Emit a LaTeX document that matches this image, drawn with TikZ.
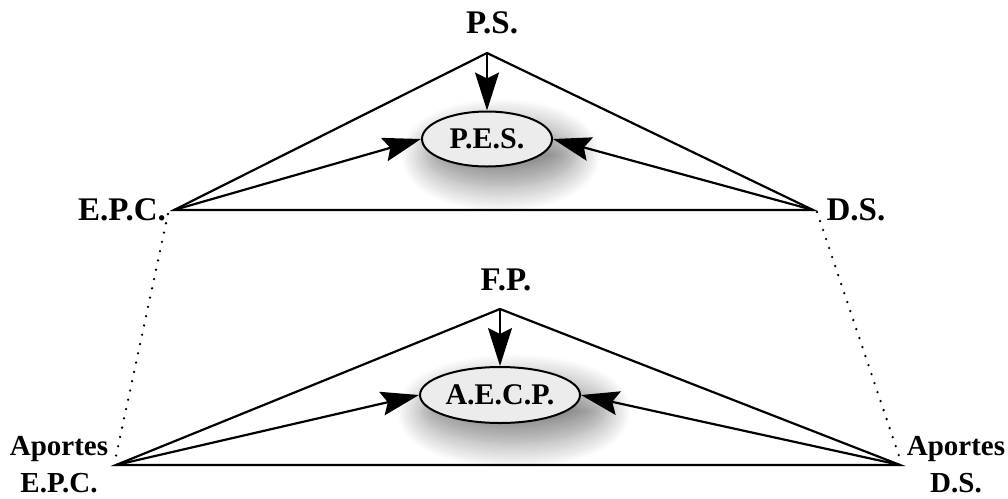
\documentclass[tikz,border=0pt]{standalone}
\usepackage{fontspec}
\setmainfont{Liberation Serif}
\usetikzlibrary{arrows.meta,shadows.blur,shapes.geometric}
\begin{document}
\begin{tikzpicture}[x=1pt,y=-1pt,
  lbl/.style={font=\bfseries\fontsize{33}{35}\selectfont, inner sep=0pt, anchor=base},
  lbls/.style={font=\bfseries\fontsize{29}{31}\selectfont, inner sep=0pt, anchor=base},
  oval/.style={ellipse, draw, line width=2pt, fill=gray!15, inner sep=0pt,
    font=\bfseries\fontsize{30}{32}\selectfont,
    blur shadow={shadow xshift=12pt, shadow yshift=-14pt, shadow scale=1.15, shadow blur radius=22pt, shadow blur steps=20, shadow opacity=45}},
  edge/.style={line width=2.2pt},
  arr/.style={line width=2.2pt, -{Stealth[length=38pt,width=24pt,inset=6pt]}},
  dots/.style={line width=2.6pt, line cap=round, dash pattern=on 0pt off 9.5pt}
]
\useasboundingbox (0,0) rectangle (1008,498);
% top triangle
\coordinate (a1) at (487,53);
\coordinate (l1) at (174,210);
\coordinate (r1) at (813,210);
\node[oval, minimum width=130pt, minimum height=55pt] (pes) at (487,139) {P.E.S.};
\node[lbl] (ps) at (492,33) {P.S.};
\node[lbl] (epc) at (122,220) {E.P.C.};
\node[lbl] (ds) at (856,220) {D.S.};
\draw[edge] (l1) -- (a1) -- (r1) -- cycle;
\draw[arr] (a1) -- (pes.north);
\draw[arr] (l1) -- (pes.west);
\draw[arr] (r1) -- (pes.east);
% bottom triangle
\coordinate (a2) at (500,309);
\coordinate (l2) at (116,465);
\coordinate (r2) at (900,465);
\node[oval, minimum width=160pt, minimum height=56pt] (aecp) at (500,395) {A.E.C.P.};
\node[lbl] (fp) at (506,290) {F.P.};
\node[lbls] (ap1) at (59,455) {Aportes};
\node[lbls] (epc2) at (59,492) {E.P.C.};
\node[lbls] (ap2) at (956,455) {Aportes};
\node[lbls] (ds2) at (956,492) {D.S.};
\draw[edge] (l2) -- (a2) -- (r2) -- cycle;
\draw[arr] (a2) -- (aecp.north);
\draw[arr] (l2) -- (aecp.west);
\draw[arr] (r2) -- (aecp.east);
% dotted links
\coordinate (d1s) at (168,214);
\coordinate (d1e) at (116,456);
\coordinate (d2s) at (817,212);
\coordinate (d2e) at (899,456);
\draw[dots] (d1s) -- (d1e);
\draw[dots] (d2s) -- (d2e);
\end{tikzpicture}
\end{document}
